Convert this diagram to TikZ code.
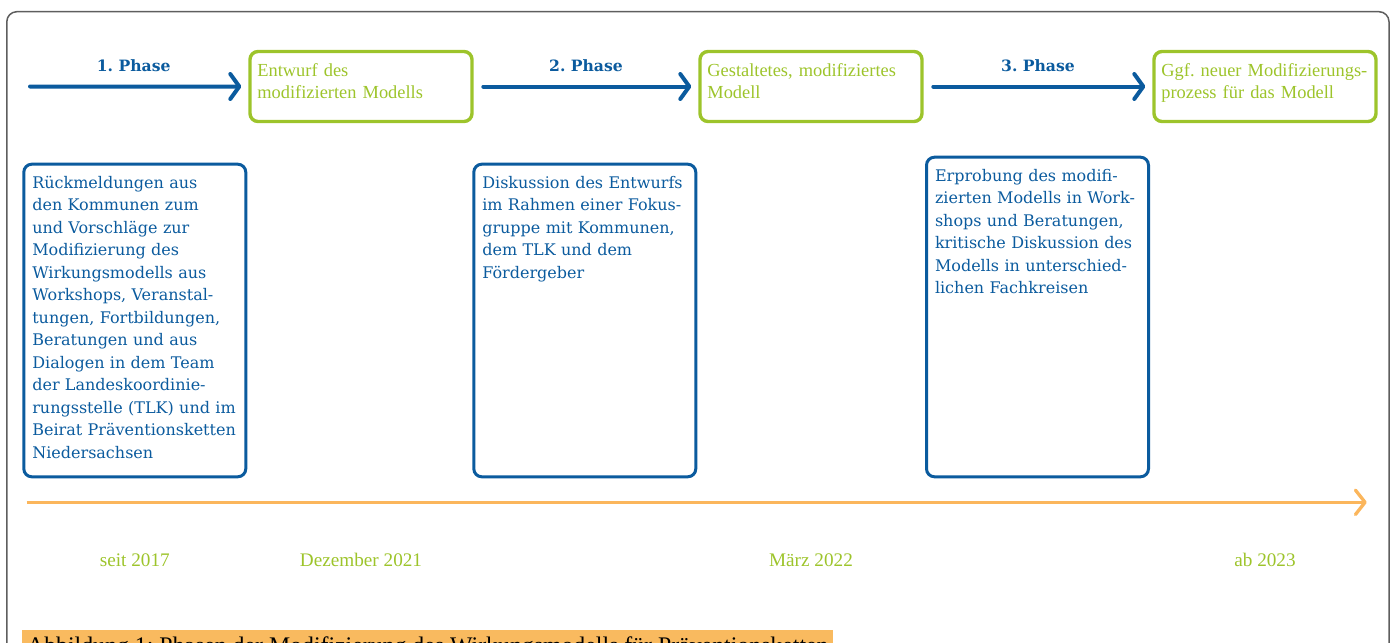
\documentclass[tikz,border=0pt]{standalone}
\usepackage{fontspec}
\setmainfont{DejaVu Serif}
\newfontfamily\thinserif{Liberation Serif}
\frenchspacing
\usepackage{tikz}
\usetikzlibrary{arrows.meta,positioning}
\definecolor{bluec}{HTML}{0B5B9E}
\definecolor{greenc}{HTML}{9DC42B}
\definecolor{orangec}{HTML}{FBB65C}
\definecolor{capc}{HTML}{F9BA5F}
\definecolor{framec}{HTML}{5E5E5E}
\tikzset{
  ar/.style={-{Straight Barb[length=4.5pt,width=12.5pt,round]},line width=2pt,bluec,line cap=round,shorten >=3.5pt,shorten <=4.8pt},
  tla/.style={-{Straight Barb[length=4.8pt,width=12.2pt,round]},line width=1.65pt,orangec},
  ph/.style={font=\bfseries\fontsize{7.8}{9}\selectfont,text=bluec,inner sep=0pt},
  gbox/.style={draw=greenc,line width=1.7pt,rounded corners=4pt,anchor=north west,text=greenc,
    font=\thinserif\fontsize{9.2}{11.35}\selectfont,align=left,text width=103.6pt,
    inner xsep=3.7pt,inner ysep=5pt,text height=7.25pt,text depth=17.75pt},
  bbox/.style={draw=bluec,line width=1.5pt,rounded corners=4pt,anchor=north west,text=bluec,
    font=\fontsize{8}{11.25}\selectfont,align=left,text width=102.5pt,
    inner xsep=4.25pt,inner ysep=5pt,text height=7.05pt},
  dt/.style={anchor=base,text=greenc,font=\thinserif\fontsize{9.6}{11}\selectfont,inner sep=0pt},
  capbar/.style={anchor=north west,fill=capc,text=black,font=\thinserif\fontsize{11.9}{14}\selectfont,
    inner xsep=2.35pt,inner ysep=3.7pt,text height=8.2pt}
}
\begin{document}
\begin{tikzpicture}[x=0.5pt,y=-0.5pt]
\useasboundingbox (0,0) rectangle (1394,643);
\clip (0,0) rectangle (1394,643);
\draw[framec,line width=0.75pt,rounded corners=5pt] (6.8,11.7) rectangle (1389,700);

\node[gbox] (entw) at (248.3,49.8) {Entwurf des\\modifizierten Modells};
\node[gbox] (gest) at (698.3,49.8) {Gestaltetes, modifiziertes\\Modell};
\node[gbox] (ggf) at (1152.3,49.8) {\mbox{Ggf. neuer Modifizierungs-}\\prozess für das Modell};

\coordinate (p0) at (30,86.5);
\draw[ar,shorten <=0pt] (p0) -- (entw.west) node[ph,pos=.475,above=6.25pt] {1. Phase};
\draw[ar] (entw.east) -- (gest.west) node[ph,midway,above=6.25pt] {2. Phase};
\draw[ar] (gest.east) -- (ggf.west) node[ph,midway,above=6.25pt] {3. Phase};

\node[bbox,text depth=139.25pt] (rueck) at (22.3,162.7) {Rückmeldungen aus\\den Kommunen zum\\und Vorschläge zur\\Modifizierung des\\Wirkungsmodells aus\\Workshops, Veranstal-\\tungen, Fortbildungen,\\Beratungen und aus\\Dialogen in dem Team\\der Landeskoordinie-\\rungsstelle (TLK) und im\\Beirat Präventionsketten\\Niedersachsen};
\node[bbox,text depth=139.25pt] (disk) at (472.3,162.7) {Diskussion des Entwurfs\\im Rahmen einer Fokus-\\gruppe mit Kommunen,\\dem TLK und dem\\Fördergeber};
\node[bbox,text depth=142.75pt] (erpr) at (925,155.7) {Erprobung des modifi-\\zierten Modells in Work-\\shops und Beratungen,\\kritische Diskussion des\\Modells in unterschied-\\lichen Fachkreisen};

\coordinate (t0) at (26.7,502.3);
\coordinate (t1) at (1366.7,502.3);
\draw[tla] (t0) -- (t1);

\coordinate (dl) at (0,566.7);
\node[dt] (d1) at (rueck |- dl) {seit 2017};
\node[dt] (d2) at (entw |- dl) {Dezember 2021};
\node[dt] (d3) at (gest |- dl) {März 2022};
\node[dt] (d4) at (ggf |- dl) {ab 2023};

\node[capbar] (capt) at (22,629.3) {Abbildung 1: Phasen der Modifizierung des Wirkungsmodells für Präventionsketten};
\end{tikzpicture}
\end{document}
